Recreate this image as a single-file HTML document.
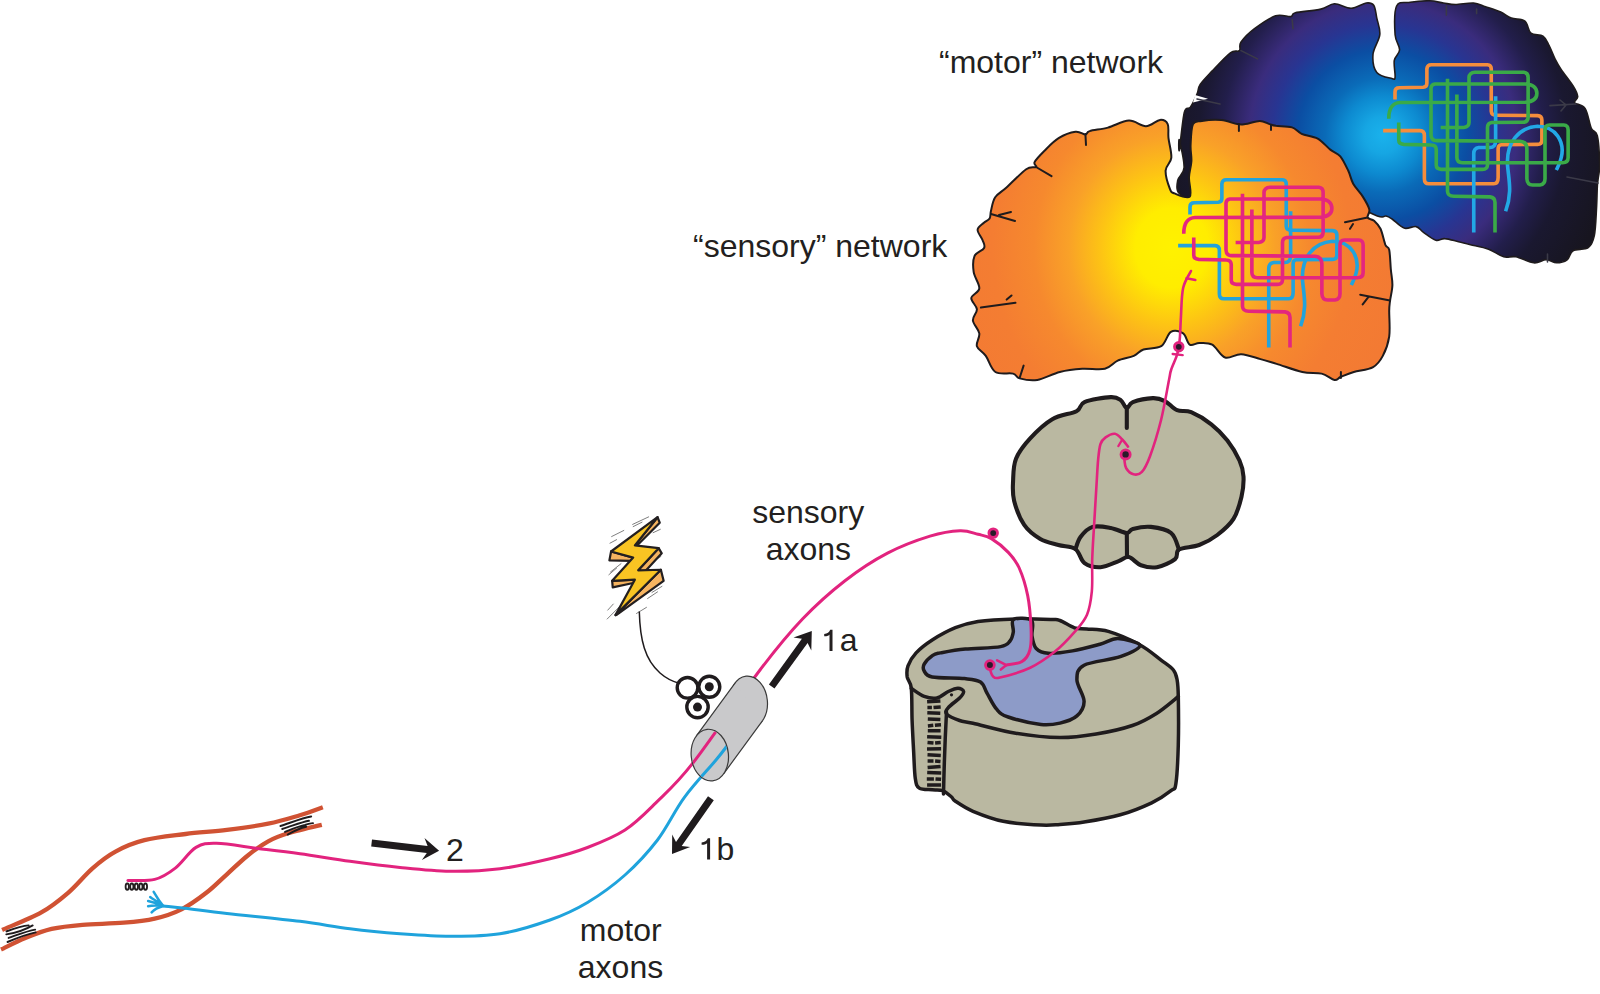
<!DOCTYPE html>
<html><head><meta charset="utf-8"><style>
html,body{margin:0;padding:0;background:#fff;overflow:hidden;width:1600px;height:994px;}
svg{display:block;}
</style></head><body>
<svg width="1600" height="994" viewBox="0 0 1600 994">
<rect width="1600" height="994" fill="#fff"/>
<defs>
<radialGradient id="gOrange" gradientUnits="userSpaceOnUse" cx="1172" cy="248" r="230" gradientTransform="translate(1172 248) scale(1 1.08) translate(-1172 -248)">
  <stop offset="0" stop-color="#fff200"/>
  <stop offset="0.16" stop-color="#ffed00"/>
  <stop offset="0.31" stop-color="#fdc414"/>
  <stop offset="0.45" stop-color="#f9a128"/>
  <stop offset="0.6" stop-color="#f6892e"/>
  <stop offset="0.78" stop-color="#f47d32"/>
  <stop offset="1" stop-color="#f37a33"/>
</radialGradient>
<radialGradient id="gBlue" gradientUnits="userSpaceOnUse" cx="1383" cy="135" r="230">
  <stop offset="0" stop-color="#1ab2ec"/>
  <stop offset="0.08" stop-color="#16a6e3"/>
  <stop offset="0.17" stop-color="#0d8ad0"/>
  <stop offset="0.25" stop-color="#0a6bb8"/>
  <stop offset="0.37" stop-color="#0b4ea3"/>
  <stop offset="0.48" stop-color="#283592"/>
  <stop offset="0.58" stop-color="#3a2c7d"/>
  <stop offset="0.7" stop-color="#221e4b"/>
  <stop offset="0.8" stop-color="#1a1830"/>
  <stop offset="1" stop-color="#17151f"/>
</radialGradient>
</defs>
<path d="M1179.4,150.0 C1180.2,145.4 1182.5,119.5 1184.3,112.4 C1186.1,105.3 1188.2,110.3 1190.4,107.2 C1192.6,104.1 1195.6,97.4 1197.2,93.6 C1198.8,89.8 1197.7,88.3 1200.2,84.5 C1202.7,80.7 1207.3,76.2 1212.3,70.9 C1217.3,65.6 1225.9,56.2 1230.4,52.8 C1234.9,49.4 1237.7,52.4 1239.4,50.6 C1241.2,48.9 1238.4,45.9 1240.9,42.3 C1243.4,38.6 1248.7,33.1 1254.5,28.7 C1260.3,24.3 1269.6,17.8 1275.6,15.8 C1281.6,13.8 1287.4,17.1 1290.7,16.6 C1294.0,16.1 1290.3,14.1 1295.3,12.8 C1300.3,11.6 1314.4,10.6 1320.9,9.1 C1327.4,7.6 1329.5,3.9 1334.5,3.8 C1339.5,3.7 1345.8,8.4 1351.1,8.3 C1356.4,8.2 1362.4,3.5 1366.2,3.0 C1370.0,2.5 1371.9,2.8 1373.7,5.3 C1375.5,7.8 1375.8,13.2 1376.8,18.1 C1377.8,23.0 1380.4,28.7 1379.8,34.7 C1379.2,40.7 1373.5,48.0 1373.0,54.3 C1372.5,60.6 1373.6,68.4 1376.8,72.4 C1380.0,76.4 1388.9,77.7 1391.9,78.5 C1395.0,79.3 1394.7,80.0 1395.1,77.0 C1395.5,74.0 1393.5,64.9 1394.3,60.4 C1395.0,55.9 1399.5,54.1 1399.6,49.8 C1399.7,45.5 1395.6,42.0 1395.1,34.7 C1394.6,27.4 1394.1,11.4 1396.6,6.0 C1399.1,0.6 1404.7,3.2 1410.2,2.3 C1415.7,1.4 1424.3,0.7 1429.8,0.8 C1435.3,0.9 1439.1,2.4 1443.4,3.0 C1447.7,3.6 1450.4,4.5 1455.4,4.5 C1460.4,4.5 1468.6,2.6 1473.6,3.0 C1478.6,3.4 1481.1,5.3 1485.6,6.8 C1490.1,8.3 1496.4,10.2 1500.7,12.1 C1505.0,14.0 1507.3,16.6 1511.3,18.1 C1515.3,19.6 1521.6,18.6 1524.9,21.1 C1528.2,23.6 1527.9,30.7 1530.9,33.2 C1533.9,35.7 1540.0,34.2 1543.0,36.2 C1546.0,38.2 1547.0,41.5 1549.0,45.3 C1551.0,49.1 1553.0,54.9 1555.0,58.9 C1557.0,62.9 1558.1,64.9 1561.1,69.4 C1564.1,73.9 1570.3,81.5 1573.1,86.0 C1575.9,90.5 1577.4,93.8 1577.7,96.6 C1578.0,99.4 1573.5,100.6 1574.7,102.6 C1576.0,104.6 1582.4,104.3 1585.2,108.6 C1588.0,112.9 1589.3,123.8 1591.3,128.3 C1593.3,132.8 1595.9,129.7 1597.3,135.8 C1598.7,141.9 1599.5,157.4 1599.6,164.7 C1599.7,172.0 1598.4,176.0 1598.0,179.8 C1597.6,183.6 1597.5,182.5 1597.3,187.3 C1597.0,192.1 1597.0,200.4 1596.5,208.5 C1596.0,216.6 1595.7,229.1 1594.3,235.6 C1592.9,242.1 1591.7,245.2 1588.2,247.7 C1584.7,250.2 1576.6,248.7 1573.1,250.7 C1569.6,252.7 1569.9,257.8 1567.1,259.8 C1564.3,261.8 1560.0,262.8 1556.5,262.8 C1553.0,262.8 1549.8,259.8 1546.0,259.8 C1542.2,259.8 1538.9,263.3 1533.9,262.8 C1528.9,262.3 1520.8,257.8 1515.8,256.8 C1510.8,255.8 1508.2,258.1 1503.7,256.8 C1499.2,255.5 1494.1,251.2 1488.6,249.2 C1483.1,247.2 1475.5,245.9 1470.5,244.7 C1465.5,243.4 1462.8,242.7 1458.5,241.7 C1454.2,240.7 1448.7,238.8 1444.9,238.6 C1441.1,238.3 1439.3,241.2 1435.8,240.2 C1432.3,239.2 1427.1,234.9 1423.8,232.6 C1420.5,230.3 1419.5,227.3 1416.2,226.6 C1412.9,225.8 1408.1,229.4 1404.1,228.1 C1400.1,226.8 1395.1,221.0 1392.1,219.0 C1389.1,217.0 1388.5,216.5 1386.0,216.0 C1383.5,215.5 1385.0,218.6 1377.3,215.9 C1369.6,213.2 1361.2,207.7 1340.0,200.0 C1318.8,192.3 1273.3,170.0 1250.0,170.0 C1226.7,170.0 1211.8,196.1 1200.0,200.0 C1188.2,203.9 1183.0,196.7 1179.3,193.4 C1175.6,190.2 1176.9,184.8 1177.7,180.5 C1178.5,176.2 1183.8,174.3 1184.1,167.6 C1184.4,160.8 1180.1,142.9 1179.3,140.0 C1178.5,137.1 1178.6,154.6 1179.4,150.0 Z" fill="url(#gBlue)" stroke="#1f1b1d" stroke-width="1.6" stroke-linejoin="round"/>
<path d="M1195,95 L1208,98.8 L1193,102.5 Z" fill="#fff"/>
<g fill="none" stroke="#3b3a48" stroke-width="1.6" stroke-linecap="round"><path d="M1197,99 L1220,104 M1241,50.6 L1257.5,58.9 M1292.2,19.6 L1293,28.7 M1446.4,6 L1446.4,15.1 M1476.6,9 L1476.6,13.6 M1550,105.6 L1576,104 M1560,100 L1566,105 L1561,111 M1567,177 L1598,183 M1547.5,254 L1547.5,262"/></g>
<g transform="translate(1375,55) scale(0.125)" fill="none" stroke-width="29" stroke-linecap="butt" stroke-linejoin="round"><path d="M160,355 L160,295 Q160,262 195,262 L385,258 Q415,255 415,225 L415,110 Q418,78 450,78 L900,78 Q930,80 930,110 L930,450 Q932,482 965,482 L1300,485 Q1335,488 1335,520 L1335,680 Q1335,715 1300,715 L1010,718 Q985,720 985,750 L985,980 Q985,1030 950,1030 L430,1030 Q395,1030 395,990 L395,645 Q395,605 360,605 L65,605" stroke="#f58d3c"/><path d="M965,330 L965,690 Q962,740 920,740 L830,740 Q790,745 790,790 L790,1420 M1045,1250 C1100,1100 1070,1000 1060,880 C1050,700 1150,580 1300,570 C1450,570 1520,700 1490,820 C1480,870 1460,900 1450,920" stroke="#22a8e6"/><path d="M110,510 Q110,385 200,380 L1200,378 Q1295,372 1295,305 Q1292,235 1200,232 L480,232 Q450,235 448,265 L448,640 Q450,685 495,685 L1160,690 Q1215,695 1215,750 L1215,990 Q1218,1040 1260,1040 L1320,1040 Q1360,1035 1360,990 L1360,600 Q1360,560 1395,560 L1510,560 Q1545,562 1545,600 L1545,820 Q1545,862 1500,862 L700,862 Q655,860 655,820 L655,315 M525,580 L710,580 Q752,575 752,540 L752,180 Q755,140 800,138 L1190,138 Q1225,142 1225,180 L1225,500 Q1222,538 1185,538 L935,540 Q900,545 900,580 L900,880 Q898,915 860,915 L530,915 Q490,912 490,880 L490,755 Q488,720 450,720 L230,715 Q190,712 190,680 L190,540 M580,190 L580,1090 Q582,1130 630,1130 L920,1135 Q960,1140 960,1180 L960,1420" stroke="#3aaa48"/></g>
<path d="M977.6,229.7 C977.8,226.8 981.9,224.6 983.9,222.7 C985.9,220.8 988.4,220.5 989.6,218.5 C990.8,216.5 990.1,214.2 991.0,210.7 C991.9,207.2 992.6,201.2 995.2,197.3 C997.8,193.4 1001.3,192.2 1006.5,187.5 C1011.7,182.8 1021.3,172.6 1026.2,169.2 C1031.1,165.8 1034.6,168.2 1036.0,167.0 C1037.4,165.8 1033.2,164.8 1034.6,162.1 C1036.0,159.4 1040.5,154.8 1044.5,150.8 C1048.5,146.8 1053.4,141.4 1058.6,138.2 C1063.8,135.0 1071.0,132.4 1075.5,131.8 C1080.0,131.2 1083.1,134.6 1085.4,134.5 C1087.8,134.4 1085.8,132.2 1089.6,131.1 C1093.3,129.9 1101.3,129.3 1107.9,127.6 C1114.5,125.8 1122.7,120.8 1129.0,120.6 C1135.3,120.4 1140.7,126.3 1145.9,126.2 C1151.1,126.1 1156.4,120.2 1160.0,119.9 C1163.6,119.6 1166.3,121.0 1167.7,124.1 C1169.1,127.1 1167.9,132.6 1168.5,138.2 C1169.1,143.8 1171.8,152.5 1171.3,157.9 C1170.8,163.3 1165.8,165.4 1165.6,170.6 C1165.4,175.8 1168.4,185.1 1169.9,188.9 C1171.4,192.7 1171.2,192.1 1174.5,193.4 C1177.8,194.7 1187.4,199.3 1189.8,196.6 C1192.2,193.9 1188.7,183.2 1189.0,177.3 C1189.3,171.4 1191.1,166.6 1191.4,161.2 C1191.7,155.8 1190.3,151.3 1190.6,145.1 C1190.9,138.9 1191.1,128.1 1193.0,124.1 C1194.9,120.1 1197.2,121.6 1201.9,120.9 C1206.6,120.2 1215.3,119.6 1221.2,120.1 C1227.1,120.6 1233.3,123.4 1237.3,124.1 C1241.3,124.8 1241.5,124.6 1245.3,124.1 C1249.0,123.6 1255.8,120.9 1259.8,120.9 C1263.8,120.9 1266.8,123.3 1269.5,124.1 C1272.2,124.9 1272.2,125.2 1275.9,125.8 C1279.7,126.3 1287.7,126.1 1292.0,127.4 C1296.3,128.7 1297.3,131.9 1301.6,133.8 C1305.9,135.7 1312.9,135.9 1317.7,138.6 C1322.5,141.3 1326.8,146.9 1330.6,149.9 C1334.4,152.9 1337.3,152.8 1340.3,156.3 C1343.2,159.8 1346.1,166.2 1348.3,170.8 C1350.5,175.4 1350.8,179.4 1353.2,183.7 C1355.6,188.0 1360.1,192.3 1362.8,196.6 C1365.5,200.9 1368.5,206.0 1369.3,209.5 C1370.1,213.0 1366.8,215.6 1367.6,217.5 C1368.4,219.4 1371.9,218.8 1374.1,220.7 C1376.2,222.6 1378.6,224.8 1380.5,228.8 C1382.4,232.8 1384.0,241.4 1385.4,244.9 C1386.9,248.4 1388.3,245.7 1389.2,249.7 C1390.1,253.7 1390.3,263.1 1390.8,269.0 C1391.3,274.9 1392.5,279.7 1392.4,285.1 C1392.3,290.5 1390.5,296.9 1390.0,301.2 C1389.5,305.5 1389.3,304.9 1389.2,310.8 C1389.1,316.7 1390.3,329.1 1389.2,336.6 C1388.1,344.1 1385.5,350.8 1382.8,355.9 C1380.1,361.0 1377.9,364.4 1373.1,367.1 C1368.3,369.8 1359.2,370.4 1353.8,372.0 C1348.4,373.6 1344.1,375.5 1340.9,376.8 C1337.7,378.1 1337.7,380.5 1334.5,380.0 C1331.3,379.5 1327.0,374.9 1321.6,373.6 C1316.2,372.3 1309.8,373.6 1302.3,372.0 C1294.8,370.4 1283.6,366.0 1276.6,363.9 C1269.6,361.8 1266.4,360.7 1260.5,359.1 C1254.6,357.5 1247.1,354.6 1241.2,354.3 C1235.3,354.0 1229.9,359.1 1225.1,357.5 C1220.3,355.9 1216.5,347.0 1212.2,344.6 C1207.9,342.2 1203.0,343.0 1199.3,343.0 C1195.5,343.0 1192.4,346.2 1189.7,344.6 C1187.0,343.0 1186.3,335.4 1183.2,333.3 C1180.1,331.2 1174.6,329.7 1170.9,331.8 C1167.2,333.9 1165.8,343.2 1161.2,346.2 C1156.6,349.1 1148.1,347.9 1143.5,349.5 C1138.9,351.1 1138.1,354.0 1133.8,355.9 C1129.5,357.8 1122.5,358.5 1117.7,360.7 C1112.9,362.9 1110.8,367.4 1104.9,368.8 C1099.0,370.2 1089.8,368.3 1082.3,368.8 C1074.8,369.3 1067.3,370.1 1059.8,372.0 C1052.3,373.9 1044.0,378.9 1037.3,380.0 C1030.6,381.1 1023.6,379.5 1019.6,378.4 C1015.6,377.3 1017.1,374.7 1013.1,373.6 C1009.1,372.5 1000.0,374.9 995.4,372.0 C990.8,369.1 988.9,360.2 985.8,355.9 C982.7,351.6 978.0,349.9 976.9,346.2 C975.8,342.4 980.0,337.7 979.3,333.4 C978.6,329.1 973.3,324.5 972.9,320.5 C972.5,316.5 977.2,312.9 976.9,309.2 C976.6,305.4 970.9,301.5 971.3,298.0 C971.7,294.5 978.9,292.6 979.3,288.3 C979.7,284.0 974.5,277.6 973.7,272.2 C972.9,266.8 972.8,260.1 974.5,256.1 C976.2,252.1 982.8,250.7 984.1,248.0 C985.4,245.3 983.6,243.1 982.5,240.0 C981.4,236.9 977.4,232.6 977.6,229.7 Z" fill="url(#gOrange)" stroke="#1f1b1d" stroke-width="2" stroke-linejoin="round"/>
<g fill="none" stroke="#1f1b1d" stroke-width="2" stroke-linecap="round"><path d="M1085.4,134 L1086,145 M1036,167 L1051.5,176.2 M991,214 L1015,221 M999,215 L1011,212 M980.9,307.6 L1015.5,302.8 M1006.7,299.6 L1011.5,295.5 M1019.6,378 L1023.6,365.6 M1238.9,124 L1238.9,131 M1271,125 L1271,130 M1345,222.3 L1367.6,217.5 M1350,228.8 L1353,224 M1360.2,294.7 L1390,300.4 M1362.7,304.4 L1368.3,297.1 M1340.9,372 L1340.9,378"/></g>
<g transform="translate(1170,170) scale(0.125)" fill="none" stroke-width="29" stroke-linecap="butt" stroke-linejoin="round"><path d="M160,355 L160,295 Q160,262 195,262 L385,258 Q415,255 415,225 L415,110 Q418,78 450,78 L900,78 Q930,80 930,110 L930,450 Q932,482 965,482 L1300,485 Q1335,488 1335,520 L1335,680 Q1335,715 1300,715 L1010,718 Q985,720 985,750 L985,980 Q985,1030 950,1030 L430,1030 Q395,1030 395,990 L395,645 Q395,605 360,605 L65,605" stroke="#22a3dc"/><path d="M965,330 L965,690 Q962,740 920,740 L830,740 Q790,745 790,790 L790,1420 M1045,1250 C1100,1100 1070,1000 1060,880 C1050,700 1150,580 1300,570 C1450,570 1520,700 1490,820 C1480,870 1460,900 1450,920" stroke="#22a3dc"/><path d="M110,510 Q110,385 200,380 L1200,378 Q1295,372 1295,305 Q1292,235 1200,232 L480,232 Q450,235 448,265 L448,640 Q450,685 495,685 L1160,690 Q1215,695 1215,750 L1215,990 Q1218,1040 1260,1040 L1320,1040 Q1360,1035 1360,990 L1360,600 Q1360,560 1395,560 L1510,560 Q1545,562 1545,600 L1545,820 Q1545,862 1500,862 L700,862 Q655,860 655,820 L655,315 M525,580 L710,580 Q752,575 752,540 L752,180 Q755,140 800,138 L1190,138 Q1225,142 1225,180 L1225,500 Q1222,538 1185,538 L935,540 Q900,545 900,580 L900,880 Q898,915 860,915 L530,915 Q490,912 490,880 L490,755 Q488,720 450,720 L230,715 Q190,712 190,680 L190,540 M580,190 L580,1090 Q582,1130 630,1130 L920,1135 Q960,1140 960,1180 L960,1420" stroke="#e4267f"/></g>
<path d="M1076.5,411.2 C1081.9,408.4 1078.8,404.5 1084.5,402.1 C1090.2,399.8 1104.7,397.4 1110.7,397.1 C1116.7,396.8 1118.0,398.2 1120.7,400.1 C1123.4,402.0 1124.8,407.9 1126.8,408.2 C1128.8,408.5 1128.4,403.8 1132.8,402.1 C1137.2,400.4 1147.5,398.3 1152.9,398.1 C1158.3,397.9 1161.0,399.1 1165.0,401.1 C1169.0,403.1 1172.7,408.4 1177.1,410.2 C1181.5,412.0 1185.5,409.8 1191.2,412.2 C1196.9,414.6 1205.3,419.6 1211.3,424.3 C1217.3,429.0 1222.7,434.4 1227.4,440.4 C1232.1,446.4 1236.8,454.5 1239.5,460.5 C1242.2,466.5 1243.2,470.6 1243.5,476.6 C1243.8,482.6 1243.2,489.6 1241.5,496.7 C1239.8,503.8 1237.5,512.5 1233.5,518.9 C1229.5,525.3 1223.0,530.6 1217.3,535.0 C1211.6,539.4 1205.6,542.6 1199.2,545.0 C1192.8,547.4 1183.0,547.1 1179.0,549.5 C1175.0,551.9 1178.8,556.1 1175.1,559.1 C1171.4,562.1 1162.7,566.2 1157.0,567.2 C1151.3,568.2 1145.6,566.9 1140.9,565.2 C1136.2,563.5 1132.5,557.8 1128.8,557.1 C1125.1,556.4 1123.4,559.4 1118.7,561.1 C1114.0,562.8 1106.3,566.9 1100.6,567.2 C1094.9,567.5 1088.7,566.1 1084.5,563.1 C1080.3,560.1 1079.8,552.1 1075.5,549.1 C1071.2,546.1 1064.3,546.7 1058.4,545.0 C1052.5,543.3 1046.0,542.4 1040.3,539.0 C1034.6,535.6 1028.6,531.3 1024.2,524.9 C1019.8,518.5 1016.0,508.1 1014.1,500.7 C1012.2,493.3 1012.8,487.6 1013.1,480.6 C1013.4,473.6 1013.2,465.5 1016.1,458.5 C1019.0,451.5 1024.2,444.9 1030.2,438.4 C1036.2,431.8 1044.6,423.7 1052.3,419.2 C1060.0,414.7 1071.1,414.0 1076.5,411.2 Z" fill="#bab8a1" stroke="#1f1b1d" stroke-width="4.1" stroke-linejoin="round"/>
<path d="M1075.5,549.1 C1076.3,547.1 1077.7,540.7 1080.5,537.0 C1083.3,533.3 1087.6,528.4 1092.6,526.9 C1097.6,525.4 1105.0,526.9 1110.7,527.9 C1116.4,528.9 1123.1,532.8 1126.8,533.0 C1130.5,533.2 1128.8,529.9 1132.8,528.9 C1136.8,527.9 1144.5,526.2 1150.9,526.9 C1157.3,527.6 1166.4,529.2 1171.1,533.0 C1175.8,536.8 1177.7,546.8 1179.0,549.5" fill="none" stroke="#1f1b1d" stroke-width="4.1" stroke-linecap="round"/>
<path d="M1126.8,533 L1127,556 M1126.8,407 L1126.8,428" fill="none" stroke="#1f1b1d" stroke-width="4.1" stroke-linecap="round"/>
<path d="M932.2,640.0 C938.8,635.8 947.8,630.8 955.4,627.7 C963.0,624.6 968.0,622.9 978.0,621.4 C988.0,619.9 1003.6,619.2 1015.7,618.9 C1027.9,618.6 1043.5,619.2 1050.9,619.5 C1058.3,619.8 1056.1,619.1 1060.0,620.5 C1063.9,621.9 1070.1,626.4 1074.5,627.8 C1078.9,629.2 1081.0,628.4 1086.6,629.0 C1092.2,629.6 1099.4,628.8 1108.3,631.4 C1117.2,634.0 1130.8,639.9 1139.7,644.7 C1148.6,649.5 1155.8,656.1 1161.4,660.3 C1167.0,664.5 1170.8,666.8 1173.4,670.0 C1176.0,673.2 1176.3,675.3 1177.1,679.7 C1177.9,684.1 1178.1,685.6 1178.3,696.5 C1178.5,707.4 1178.7,730.3 1178.3,744.8 C1177.9,759.3 1177.1,775.8 1175.9,783.4 C1174.7,791.0 1175.0,787.5 1171.0,790.7 C1167.0,793.9 1160.2,798.8 1151.7,802.8 C1143.2,806.8 1131.6,811.6 1120.3,814.8 C1109.0,818.0 1094.1,820.5 1084.1,822.1 C1074.0,823.7 1067.2,824.0 1060.0,824.5 C1052.8,825.0 1050.4,825.6 1040.9,825.1 C1031.4,824.6 1014.5,823.6 1003.2,821.3 C991.9,819.0 981.0,814.6 973.0,811.3 C965.0,807.9 959.0,803.6 955.4,801.2 C951.8,798.8 953.6,798.8 951.5,797.0 C949.4,795.2 945.9,791.8 942.7,790.6 C939.5,789.4 936.1,790.2 932.2,789.8 C928.3,789.4 922.1,790.0 919.3,788.1 C916.5,786.2 916.2,784.4 915.3,778.5 C914.4,772.6 914.2,762.4 913.7,752.7 C913.2,743.0 912.5,731.2 912.1,720.5 C911.7,709.8 912.1,695.5 911.3,688.3 C910.5,681.0 907.8,680.8 907.2,677.0 C906.7,673.2 906.5,669.8 908.0,665.8 C909.5,661.8 912.1,657.2 916.1,652.9 C920.1,648.6 925.7,644.2 932.2,640.0 Z" fill="#bab8a1" stroke="#1f1b1d" stroke-width="3.5" stroke-linejoin="round"/>
<path d="M911.3,688.3 C913.4,689.6 919.9,694.8 924.2,696.4 C928.5,698.0 933.0,698.8 937.0,698.0 C941.0,697.2 944.8,693.1 948.3,691.5 C951.8,689.9 955.5,688.3 958.0,688.3 C960.5,688.3 963.3,689.9 963.6,691.5 C963.9,693.1 962.2,695.3 959.6,698.0 C957.0,700.7 950.4,704.9 948.3,707.6 C946.1,710.3 944.8,712.0 946.7,714.1 C948.6,716.2 955.2,719.0 959.6,720.5 C964.0,722.0 963.6,721.2 973.0,723.3 C982.4,725.4 1001.2,730.9 1015.7,733.3 C1030.2,735.7 1046.6,737.5 1060.0,737.6 C1073.4,737.7 1084.1,736.0 1096.2,734.0 C1108.3,732.0 1122.4,728.9 1132.4,725.5 C1142.5,722.1 1148.8,718.2 1156.5,713.4 C1164.2,708.6 1174.7,699.3 1178.3,696.5" fill="none" stroke="#1f1b1d" stroke-width="3.5" stroke-linecap="round" stroke-linejoin="round"/>
<path d="M946.5,712 C945,740 944,770 943.5,794" fill="none" stroke="#1f1b1d" stroke-width="3.5" stroke-linecap="round"/>
<circle cx="951.5" cy="694.8" r="1.6" fill="#1f1b1d"/>
<path d="M927.1,701.7 L940.4,700.9 M927.4,707.5 L931.9,707.5 M933.5,707.5 L940.7,706.9 M927.3,712.8 L940.3,713.3 M927.8,719.0 L940.4,719.5 M927.9,725.9 L933.3,725.3 M934.9,725.3 L941.0,724.8 M927.8,730.8 L940.6,730.7 M927.1,736.8 L941.3,737.3 M927.5,742.6 L933.5,743.1 M935.1,743.1 L940.7,742.6 M927.0,749.0 L941.1,748.8 M927.5,754.8 L940.8,755.5 M927.6,761.0 L933.5,761.0 M935.1,761.0 L940.5,761.5 M927.6,767.6 L940.6,766.4 M927.2,772.4 L941.2,772.9 M926.8,778.9 L933.9,778.9 M935.5,778.9 L941.1,779.3 M927.1,784.9 L941.1,784.9 " fill="none" stroke="#1f1b1d" stroke-width="3.5" stroke-linecap="butt"/>
<path d="M924.2,664.2 C925.6,661.6 930.0,657.3 932.7,655.4 C935.4,653.5 934.8,653.9 940.3,652.9 C945.8,651.9 955.3,650.1 965.4,649.1 C975.5,648.1 993.2,648.0 1000.6,646.6 C1008.0,645.2 1007.9,643.4 1010.0,641.0 C1012.1,638.6 1012.7,635.6 1013.3,632.0 C1013.9,628.4 1010.5,621.4 1013.5,619.5 C1016.5,617.6 1028.4,617.8 1031.5,620.5 C1034.6,623.2 1031.2,631.3 1032.0,636.0 C1032.8,640.7 1033.5,645.6 1036.2,648.5 C1038.9,651.4 1042.2,652.9 1048.3,653.3 C1054.3,653.7 1063.9,652.4 1072.5,650.9 C1081.1,649.4 1092.4,646.3 1100.0,644.3 C1107.6,642.2 1111.2,638.4 1117.9,638.6 C1124.6,638.8 1139.6,642.5 1140.0,645.5 C1140.4,648.5 1129.6,653.4 1120.3,656.7 C1111.0,660.0 1091.3,661.4 1084.1,665.2 C1076.9,669.0 1076.9,673.7 1076.9,679.7 C1076.9,685.7 1084.1,695.4 1084.1,701.4 C1084.1,707.4 1080.9,712.3 1076.9,715.9 C1072.9,719.5 1066.0,721.7 1060.0,723.1 C1054.0,724.5 1049.5,725.5 1040.9,724.5 C1032.3,723.5 1015.6,719.5 1008.2,717.0 C1000.8,714.5 1000.1,713.2 996.6,709.2 C993.1,705.2 989.7,697.7 987.0,693.1 C984.3,688.5 984.3,684.3 980.5,681.9 C976.7,679.5 972.4,679.4 964.4,678.6 C956.4,677.8 938.9,678.3 932.2,677.0 C925.5,675.7 925.5,673.1 924.2,671.0 C922.9,668.9 922.8,666.8 924.2,664.2 Z" fill="#8d9bc8" stroke="#1f1b1d" stroke-width="3.5" stroke-linejoin="round"/>
<path d="M2.1,930.0 C8.6,927.0 30.3,918.6 41.3,912.4 C52.3,906.2 59.5,900.2 68.1,892.8 C76.7,885.4 84.9,874.9 92.8,868.1 C100.7,861.2 106.9,856.2 115.5,851.6 C124.1,846.9 132.7,843.1 144.4,840.2 C156.1,837.3 171.9,835.8 185.6,834.0 C199.4,832.3 213.1,831.6 226.9,829.9 C240.6,828.2 256.1,826.1 268.2,823.7 C280.2,821.3 290.0,818.2 299.1,815.5 C308.2,812.7 318.9,808.6 322.8,807.2" fill="none" stroke="#d05233" stroke-width="4.3" stroke-linecap="butt"/>
<path d="M1.0,949.5 C5.0,947.7 16.3,941.6 24.8,938.2 C33.2,934.8 41.9,931.2 51.6,928.9 C61.2,926.7 70.5,925.8 82.5,924.8 C94.5,923.8 111.7,923.8 123.8,922.7 C135.8,921.7 145.1,920.8 154.7,918.6 C164.3,916.4 172.9,913.6 181.5,909.3 C190.1,905.0 198.7,898.7 206.3,892.8 C213.8,887.0 220.0,880.4 226.9,874.3 C233.8,868.1 240.6,861.2 247.5,855.7 C254.4,850.2 261.3,845.0 268.2,841.3 C275.0,837.5 279.8,835.8 288.8,833.0 C297.7,830.3 316.3,826.1 321.8,824.8" fill="none" stroke="#d05233" stroke-width="4.3" stroke-linecap="butt"/>
<g fill="none" stroke="#1f1b1d" stroke-width="1.9" stroke-linecap="round"><path d="M6.5,931.4 C13,929 21,926 28.7,925.4 M6.3,934.4 C15,933 25,930 32.7,925.4 M8.6,937.9 C17,935 27,931 35.2,929.6 M7.5,942 C17,938 28,934 35.7,932.4"/><path d="M280.4,826 C290,823 302,818 311.2,816.5 M282.2,829 C292,826 302,822 309,820.8 M285,831.9 C292,829 300,826 305,825 C308,824 311,823 313,823.1 M287.7,834.6 C294,831 300,828 306.2,826.7"/></g>
<g transform="translate(0,800) scale(0.20627)" fill="none" stroke="#231f20" stroke-width="9"><ellipse cx="617" cy="420" rx="8" ry="15"/><ellipse cx="639" cy="420" rx="8" ry="15"/><ellipse cx="661" cy="420" rx="8" ry="15"/><ellipse cx="683" cy="420" rx="8" ry="15"/><ellipse cx="705" cy="420" rx="8" ry="15"/></g>
<g transform="translate(0,800) scale(0.20627)" fill="none" stroke="#1fa3dc" stroke-width="12" stroke-linecap="round"><path d="M792,514 C770,490 760,470 745,445 M792,514 C770,495 740,480 728,470 M792,514 C760,500 740,495 718,490 M792,514 C760,510 740,510 718,515 M792,514 C770,520 748,530 735,545"/></g>
<path d="M127.9,880.4 C132.4,880.3 146.8,881.5 154.7,879.4 C162.6,877.4 168.5,873.4 175.3,868.1 C182.2,862.7 189.1,851.6 196.0,847.4 C202.8,843.3 206.3,843.1 216.6,843.3 C226.9,843.5 243.9,846.7 257.8,848.5 C271.7,850.2 284.6,851.7 300.0,853.8 C315.4,855.9 333.3,859.0 350.0,861.3 C366.7,863.6 383.3,865.8 400.0,867.5 C416.7,869.2 433.3,871.1 450.0,871.3 C466.7,871.5 483.3,870.9 500.0,868.8 C516.7,866.7 535.4,862.3 550.0,858.8 C564.6,855.2 575.0,852.3 587.5,847.5 C600.0,842.7 613.6,837.4 625.0,830.0 C636.4,822.6 644.3,814.3 655.6,803.1 C666.9,791.9 675.6,785.1 693.0,762.9 C710.4,740.7 741.8,694.0 760.0,670.0 C778.2,646.0 788.3,633.9 802.5,619.0 C816.7,604.1 830.8,591.7 845.0,580.7 C859.2,569.7 873.3,560.5 887.5,553.1 C901.7,545.7 917.9,539.8 930.0,536.1 C942.1,532.4 952.0,531.0 960.0,530.7 C968.0,530.4 972.9,533.0 978.1,534.3 C983.3,535.6 986.4,535.6 991.4,538.6 C996.4,541.6 1003.7,547.5 1008.3,552.4 C1012.9,557.3 1016.0,560.8 1019.2,568.0 C1022.4,575.2 1025.7,585.7 1027.7,595.6 C1029.7,605.5 1030.6,618.4 1031.0,627.5 C1031.4,636.6 1031.4,644.3 1029.9,650.0 C1028.4,655.7 1025.9,659.0 1022.0,661.5 C1018.1,664.0 1009.0,664.5 1006.4,665.1" fill="none" stroke="#e2237e" stroke-width="3" stroke-linecap="round"/>
<path d="M997.1,660.3 L1006.4,665.1 L1000.8,669.5" fill="none" stroke="#e2237e" stroke-width="2.6" stroke-linecap="round" stroke-linejoin="round"/>
<path d="M163.4,906.0 C167.0,906.4 174.4,907.1 185.0,908.3 C195.6,909.5 207.7,911.3 226.9,913.4 C246.1,915.6 279.5,918.7 300.0,921.3 C320.5,923.9 333.3,926.7 350.0,928.8 C366.7,930.9 383.3,932.5 400.0,933.8 C416.7,935.0 433.3,936.3 450.0,936.3 C466.7,936.3 483.3,936.5 500.0,933.8 C516.7,931.1 535.4,925.2 550.0,920.0 C564.6,914.8 575.0,910.0 587.5,902.5 C600.0,895.0 613.3,885.4 625.0,875.0 C636.7,864.6 647.6,852.9 657.5,840.0 C667.4,827.1 674.6,810.7 684.4,797.4 C694.1,784.1 708.9,768.6 716.0,760.0 C723.1,751.4 725.2,748.3 727.0,746.0" fill="none" stroke="#1fa3dc" stroke-width="3" stroke-linecap="round"/>
<path d="M989.9,669.1 C990.4,670.3 991.4,675.0 993.1,676.4 C994.8,677.8 993.8,678.9 1000.0,677.5 C1006.2,676.1 1021.2,672.0 1030.2,667.8 C1039.2,663.6 1046.8,658.1 1054.3,652.1 C1061.8,646.1 1069.5,637.8 1074.9,631.6 C1080.4,625.4 1084.2,621.4 1087.0,614.7 C1089.8,608.1 1090.9,600.8 1091.8,591.7 C1092.7,582.6 1091.9,570.3 1092.2,560.0 C1092.5,549.7 1093.2,540.0 1093.8,530.0 C1094.4,520.0 1095.1,508.3 1095.6,500.0 C1096.1,491.7 1096.4,486.8 1096.8,480.0 C1097.2,473.2 1097.6,465.0 1098.2,459.0 C1098.8,453.0 1099.3,447.6 1100.5,444.0 C1101.7,440.4 1103.2,439.1 1105.6,437.4 C1108.0,435.7 1112.2,433.5 1114.9,433.8 C1117.6,434.1 1119.8,437.2 1122.0,439.3 C1124.2,441.4 1127.0,445.4 1128.0,446.6" fill="none" stroke="#e2237e" stroke-width="2.6" stroke-linecap="round"/>
<path d="M1122,440 L1118.4,446" fill="none" stroke="#e2237e" stroke-width="2.4" stroke-linecap="round"/>
<path d="M1124.4,459.8 C1124.7,461.2 1124.7,465.9 1126.2,468.3 C1127.7,470.7 1130.9,473.7 1133.5,474.3 C1136.1,474.9 1139.2,474.9 1141.9,471.9 C1144.7,468.9 1146.8,464.8 1150.0,456.2 C1153.2,447.6 1157.8,432.9 1161.0,420.2 C1164.2,407.5 1167.3,388.4 1169.0,380.0 C1170.7,371.6 1169.8,374.0 1171.1,370.0 C1172.4,366.0 1175.3,360.1 1176.6,356.2 C1177.9,352.3 1178.2,349.9 1178.8,346.8 C1179.3,343.7 1179.5,342.6 1179.9,337.4 C1180.3,332.1 1180.5,323.6 1181.0,315.3 C1181.5,307.0 1181.5,295.1 1183.2,287.7 C1184.9,280.3 1189.7,273.8 1191.0,271.0" fill="none" stroke="#e2237e" stroke-width="2.6" stroke-linecap="round"/>
<path d="M1186.5,278.3 L1195.4,280 M1172.7,354 L1182.7,355.1" fill="none" stroke="#e2237e" stroke-width="2.4" stroke-linecap="round"/>
<circle cx="993.2" cy="533.1" r="4.3" fill="#2a1a2a" stroke="#e2237e" stroke-width="2.8"/>
<circle cx="989.9" cy="665.1" r="4.4" fill="#2a1a2a" stroke="#e2237e" stroke-width="2.8"/>
<circle cx="1125.6" cy="454.4" r="4.6" fill="#2a1a2a" stroke="#e2237e" stroke-width="2.8"/>
<circle cx="1178.8" cy="346.8" r="4.3" fill="#2a1a2a" stroke="#e2237e" stroke-width="2.8"/>
<ellipse cx="748.8" cy="701.9" rx="18.6" ry="25.9" transform="rotate(-6.0 748.8 701.9)" fill="#c9c9cb" stroke="#3a3a3a" stroke-width="1.2"/>
<path d="M696.2,736.1 L735.2,682.9 L762.4,720.9 L723.4,774.1 Z" fill="#c9c9cb"/>
<path d="M696.2,736.1 L735.2,682.9 M723.4,774.1 L762.4,720.9" stroke="#3a3a3a" stroke-width="1.2" fill="none"/>
<ellipse cx="709.8" cy="755.1" rx="18.6" ry="25.9" transform="rotate(-6.0 709.8 755.1)" fill="#c9c9cb" stroke="#3a3a3a" stroke-width="1.2"/>
<clipPath id="capclip"><ellipse cx="709.8" cy="755.1" rx="18.0" ry="25.299999999999997" transform="rotate(-6.0 709.8 755.1)"/></clipPath>
<g clip-path="url(#capclip)"><path d="M127.9,880.4 C132.4,880.3 146.8,881.5 154.7,879.4 C162.6,877.4 168.5,873.4 175.3,868.1 C182.2,862.7 189.1,851.6 196.0,847.4 C202.8,843.3 206.3,843.1 216.6,843.3 C226.9,843.5 243.9,846.7 257.8,848.5 C271.7,850.2 284.6,851.7 300.0,853.8 C315.4,855.9 333.3,859.0 350.0,861.3 C366.7,863.6 383.3,865.8 400.0,867.5 C416.7,869.2 433.3,871.1 450.0,871.3 C466.7,871.5 483.3,870.9 500.0,868.8 C516.7,866.7 535.4,862.3 550.0,858.8 C564.6,855.2 575.0,852.3 587.5,847.5 C600.0,842.7 613.6,837.4 625.0,830.0 C636.4,822.6 644.3,814.3 655.6,803.1 C666.9,791.9 675.6,785.1 693.0,762.9 C710.4,740.7 741.8,694.0 760.0,670.0 C778.2,646.0 788.3,633.9 802.5,619.0 C816.7,604.1 830.8,591.7 845.0,580.7 C859.2,569.7 873.3,560.5 887.5,553.1 C901.7,545.7 917.9,539.8 930.0,536.1 C942.1,532.4 952.0,531.0 960.0,530.7 C968.0,530.4 972.9,533.0 978.1,534.3 C983.3,535.6 986.4,535.6 991.4,538.6 C996.4,541.6 1003.7,547.5 1008.3,552.4 C1012.9,557.3 1016.0,560.8 1019.2,568.0 C1022.4,575.2 1025.7,585.7 1027.7,595.6 C1029.7,605.5 1030.6,618.4 1031.0,627.5 C1031.4,636.6 1031.4,644.3 1029.9,650.0 C1028.4,655.7 1025.9,659.0 1022.0,661.5 C1018.1,664.0 1009.0,664.5 1006.4,665.1" fill="none" stroke="#e2237e" stroke-width="3"/><path d="M163.4,906.0 C167.0,906.4 174.4,907.1 185.0,908.3 C195.6,909.5 207.7,911.3 226.9,913.4 C246.1,915.6 279.5,918.7 300.0,921.3 C320.5,923.9 333.3,926.7 350.0,928.8 C366.7,930.9 383.3,932.5 400.0,933.8 C416.7,935.0 433.3,936.3 450.0,936.3 C466.7,936.3 483.3,936.5 500.0,933.8 C516.7,931.1 535.4,925.2 550.0,920.0 C564.6,914.8 575.0,910.0 587.5,902.5 C600.0,895.0 613.3,885.4 625.0,875.0 C636.7,864.6 647.6,852.9 657.5,840.0 C667.4,827.1 674.6,810.7 684.4,797.4 C694.1,784.1 708.9,768.6 716.0,760.0 C723.1,751.4 725.2,748.3 727.0,746.0" fill="none" stroke="#1fa3dc" stroke-width="3"/></g>
<g transform="translate(600,510) scale(0.11065)" fill="none" stroke="#6e6e6e" stroke-width="8" stroke-linecap="round"><path d="M105,240 L215,185 M90,300 L150,268 M295,130 L440,62 M300,150 L380,110 M480,205 L545,175 M495,455 L550,420 M80,585 L150,525 M95,560 L190,485 M70,905 L120,850 M65,985 L185,865 M330,935 L420,880 M430,800 L520,740 M560,690 L470,745"/></g>
<g transform="translate(600,510) scale(0.11065)" stroke="#231f20" stroke-width="20" stroke-linejoin="round" stroke-linecap="round"><path d="M520,65 L540,115 L335,320 L315,320 Z" fill="#f6b460"/><path d="M100,375 L85,455 L280,460 L300,430 Z" fill="#f6b460"/><path d="M530,345 L558,392 L392,572 L345,545 Z" fill="#f6b460"/><path d="M110,640 L115,700 L300,660 L315,630 Z" fill="#f6b460"/><path d="M550,540 L575,640 L150,948 L140,950 Z" fill="#f6b460"/><path d="M520,65 L100,375 L300,430 L110,640 L315,630 L140,950 L550,540 L345,545 L530,345 L315,320 Z" fill="#f9c423"/></g>
<path d="M639.3,611.6 C640,640 645,660 660,673 C668,680 674,682 679.8,683.4" fill="none" stroke="#1f1b1d" stroke-width="1.5"/>
<circle cx="687.5" cy="687.8" r="10.3" fill="#fff" stroke="#1f1b1d" stroke-width="3.4"/>
<circle cx="709.3" cy="686.8" r="10.5" fill="#fff" stroke="#1f1b1d" stroke-width="3.4"/><circle cx="709.3" cy="686.8" r="4.5" fill="#1f1b1d"/>
<circle cx="697.5" cy="707.1" r="10.7" fill="#fff" stroke="#1f1b1d" stroke-width="3.4"/><circle cx="697.5" cy="707.1" r="4.5" fill="#1f1b1d"/>
<path d="M774.5,688.6 L807.6,642.9 L811.3,650.5 L811.8,631.1 L793.5,637.6 L801.9,638.8 L768.9,684.6 Z" fill="#1f1b1d"/>
<path d="M708.0,796.3 L676.0,842.1 L672.2,834.5 L672.0,853.9 L690.2,847.1 L681.7,846.1 L713.8,800.3 Z" fill="#1f1b1d"/>
<path d="M371.2,846.5 L426.8,852.9 L421.9,859.9 L439.1,850.8 L424.5,838.0 L427.6,845.9 L372.0,839.5 Z" fill="#1f1b1d"/>
<text x="939" y="72.6" text-anchor="start" font-family="Liberation Sans, sans-serif" font-size="32" fill="#231f20">“motor” network</text>
<text x="693" y="257.4" text-anchor="start" font-family="Liberation Sans, sans-serif" font-size="32" fill="#231f20">“sensory” network</text>
<text x="808.2" y="522.8" text-anchor="middle" font-family="Liberation Sans, sans-serif" font-size="32" fill="#231f20">sensory</text>
<text x="808.4" y="560.4" text-anchor="middle" font-family="Liberation Sans, sans-serif" font-size="32" fill="#231f20">axons</text>
<path d="M829.5,651.1 L832.5,651.1 L832.5,629.8 L830.2,629.8 C829.2,632.4 827.4000000000001,633.6 824.2,634.0 L824.2,636.2 C827.4000000000001,636.2 829.1,635.4 829.5,634.4 Z" fill="#231f20"/>
<text x="839.8" y="651.1" text-anchor="start" font-family="Liberation Sans, sans-serif" font-size="32" fill="#231f20">a</text>
<path d="M707.1,859.6 L710.1,859.6 L710.1,838.3 L707.8000000000001,838.3 C706.8000000000001,840.9 704.8000000000001,842.2 701.6,842.6 L701.6,844.8000000000001 C704.8000000000001,844.8000000000001 706.7,844.0 707.1,843.0 Z" fill="#231f20"/>
<text x="716.5" y="859.6" text-anchor="start" font-family="Liberation Sans, sans-serif" font-size="32" fill="#231f20">b</text>
<text x="446" y="861.1" text-anchor="start" font-family="Liberation Sans, sans-serif" font-size="32" fill="#231f20">2</text>
<text x="620.7" y="940.6" text-anchor="middle" font-family="Liberation Sans, sans-serif" font-size="32" fill="#231f20">motor</text>
<text x="620.5" y="978.4" text-anchor="middle" font-family="Liberation Sans, sans-serif" font-size="32" fill="#231f20">axons</text>
</svg></body></html>
